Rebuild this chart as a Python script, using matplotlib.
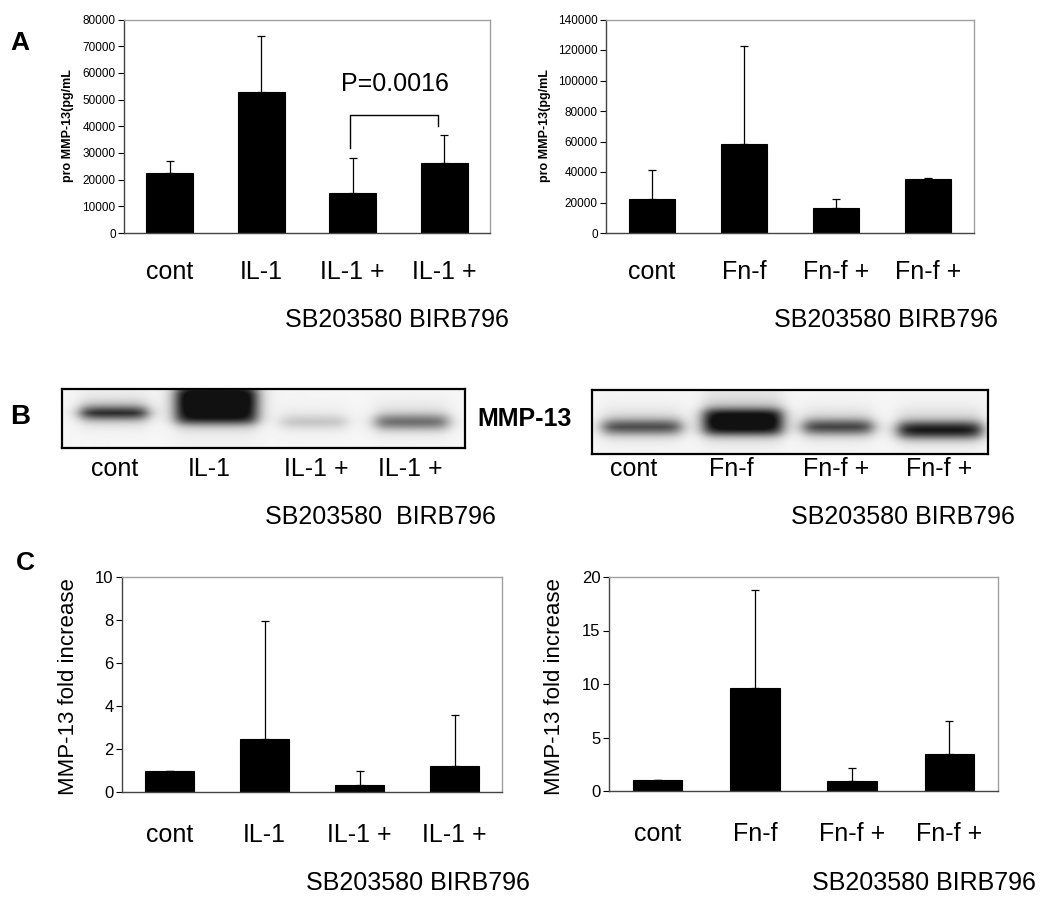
import numpy as np
import matplotlib
matplotlib.use('Agg')
import matplotlib.pyplot as plt
from matplotlib.ticker import FormatStrFormatter

plt.rcParams['font.family'] = ['Liberation Sans', 'DejaVu Sans']

W, H = 1050, 907

il1_labels = ['cont', 'IL-1', 'IL-1 +', 'IL-1 +']
fnf_labels = ['cont', 'Fn-f', 'Fn-f +', 'Fn-f +']

# A: pro MMP-13 (pg/mL), mean and upper error
elisa_il1 = [22500, 52700, 15000, 26200]
elisa_il1_err = [4400, 21000, 13200, 10500]
elisa_fnf = [22300, 58100, 16400, 35200]
elisa_fnf_err = [18700, 64600, 5700, 700]

# B: western blot band intensity (0..1)
blot_il1 = [0.85, 1.0, 0.2, 0.55]
blot_fnf = [0.68, 1.0, 0.72, 0.88]

# C: MMP-13 fold increase
fold_il1 = [1.0, 2.46, 0.34, 1.21]
fold_il1_err = [0, 5.48, 0.63, 2.37]
fold_fnf = [1.0, 9.66, 0.97, 3.49]
fold_fnf_err = [0, 9.09, 1.21, 3.05]

# bracket over IL-1 + SB / IL-1 + BIRB
bracket_y = [31900, 44200, 44200, 40100]

fig = plt.figure(figsize=(W / 100, H / 100), dpi=100)


def add_ax(x0, y0, x1, y1):
    # pixel box -> figure fraction
    return fig.add_axes([x0 / W, 1 - y1 / H, (x1 - x0) / W, (y1 - y0) / H])


def ftext(x, y, s, **kw):
    fig.text(x / W, 1 - y / H, s, **kw)


def bar_panel(ax, vals, errs, labels, ymax, step, tick_fs, pad):
    x = np.arange(len(vals))
    ax.bar(x, vals, width=0.51, color='black', edgecolor='black', linewidth=0.8, zorder=2)
    ax.errorbar(x, vals, yerr=[np.zeros(len(errs)), errs], fmt='none', ecolor='black',
                elinewidth=0.9, capsize=3, capthick=0.9, zorder=3)
    ax.set_xlim(-0.5, len(vals) - 0.5)
    ax.set_ylim(0, ymax)
    ax.set_yticks(np.arange(0, ymax + step, step))
    ax.yaxis.set_major_formatter(FormatStrFormatter('%d'))
    ax.set_xticks(x, labels, fontsize=18)
    ax.tick_params(axis='x', length=0, pad=pad)
    ax.tick_params(axis='y', direction='out', length=4, width=0.8, labelsize=tick_fs, pad=2)
    for s in ['top', 'right']:
        ax.spines[s].set_color('#a0a0a0')
        ax.spines[s].set_linewidth(1.0)
    for s in ['left', 'bottom']:
        ax.spines[s].set_color('#444444')
        ax.spines[s].set_linewidth(1.0)


def blot(ax, intens, w, h, cx, bw, cy, bh, lane_x, labels):
    xs = np.arange(w) + 0.5
    ys = np.arange(h) + 0.5
    img = np.full((h, w), 0.04)
    for I, c, a, yc, b in zip(intens, cx, bw, cy, bh):
        fx = 1 / (1 + np.exp((np.abs(xs - c) - a / 2) / 4.5))
        fy = 1 / (1 + np.exp((np.abs(ys - yc) - b) / 2.8))
        halo = np.exp(-0.5 * ((ys - yc + b * 0.6) / (b + 6)) ** 2)
        img += I * np.outer(fy, fx) + 0.16 * I * np.outer(halo, fx)
    ax.imshow(np.clip(img, 0, 1), cmap='gray_r', vmin=0, vmax=1.08,
              extent=(0, w, h, 0), aspect='auto', interpolation='bilinear')
    ax.set_xlim(0, w)
    ax.set_ylim(h, 0)
    ax.set_yticks([])
    ax.set_xticks(lane_x, labels, fontsize=18)
    for s in ax.spines.values():
        s.set_linewidth(1.6)
        s.set_color('black')


# ---------- A ----------
axA1 = add_ax(124, 19.5, 490, 233)
bar_panel(axA1, elisa_il1, elisa_il1_err, il1_labels, 80000, 10000, 8.5, 19.5)
axA1.plot([1.97, 1.97, 2.93, 2.93], bracket_y, color='black', lw=1.0)
ftext(395, 84, 'P=0.0016', fontsize=18, ha='center', va='center')

axA2 = add_ax(606, 19.5, 974, 233)
bar_panel(axA2, elisa_fnf, elisa_fnf_err, fnf_labels, 140000, 20000, 8.5, 19.5)

ftext(68, 126, 'pro MMP-13(pg/mL', fontsize=9, fontweight='bold', rotation=90, ha='center', va='center')
ftext(545, 126, 'pro MMP-13(pg/mL', fontsize=9, fontweight='bold', rotation=90, ha='center', va='center')
ftext(285, 320, 'SB203580 BIRB796', fontsize=18, ha='left', va='center')
ftext(774, 320, 'SB203580 BIRB796', fontsize=18, ha='left', va='center')
ftext(20, 43, 'A', fontsize=19, fontweight='bold', ha='center', va='center')

# ---------- B ----------
axB1 = add_ax(62, 389, 465, 448)
blot(axB1, blot_il1, 403, 59, [52, 154, 251, 349], [66, 80, 65, 72],
     [24, 16, 33, 33], [5, 18, 5, 6], [53, 147, 254, 348], il1_labels)
axB1.tick_params(axis='x', length=0, pad=6.7)

axB2 = add_ax(592, 390, 988, 454)
blot(axB2, blot_fnf, 396, 64, [50, 151, 246, 348], [78, 78, 69, 83],
     [37, 32, 37, 40], [6, 12, 6, 7], [42, 139, 244, 347], fnf_labels)
axB2.tick_params(axis='x', length=0, pad=2.4)

ftext(477, 419, 'MMP-13', fontsize=18, fontweight='bold', ha='left', va='center')
ftext(20, 417, 'B', fontsize=20, fontweight='bold', ha='center', va='center')
ftext(380, 517, 'SB203580  BIRB796', fontsize=18, ha='center', va='center')
ftext(903, 517, 'SB203580 BIRB796', fontsize=18, ha='center', va='center')

# ---------- C ----------
axC1 = add_ax(122, 577, 502, 792)
bar_panel(axC1, fold_il1, fold_il1_err, il1_labels, 10, 2, 12, 22.6)
axC2 = add_ax(609, 577, 998, 791)
bar_panel(axC2, fold_fnf, fold_fnf_err, fnf_labels, 20, 5, 12, 22.6)

ftext(69, 687, 'MMP-13 fold increase', fontsize=16, rotation=90, ha='center', va='center')
ftext(555, 687, 'MMP-13 fold increase', fontsize=16, rotation=90, ha='center', va='center')
ftext(306, 883, 'SB203580 BIRB796', fontsize=18, ha='left', va='center')
ftext(812, 883, 'SB203580 BIRB796', fontsize=18, ha='left', va='center')
ftext(25, 563, 'C', fontsize=19, fontweight='bold', ha='center', va='center')

fig.savefig('out.png', dpi=100)
